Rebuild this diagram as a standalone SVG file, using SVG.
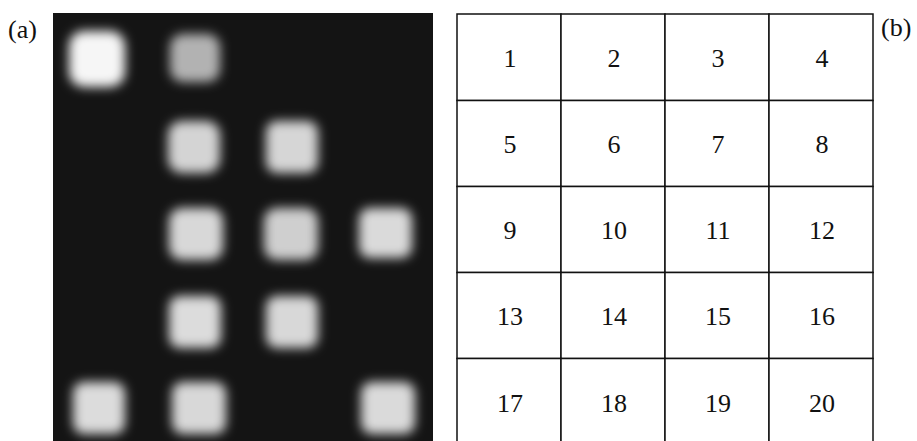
<svg xmlns="http://www.w3.org/2000/svg" width="917" height="441" viewBox="0 0 917 441">
<defs>
<filter id="blur" x="-50%" y="-50%" width="200%" height="200%"><feGaussianBlur stdDeviation="5.5"/></filter>
<style>
.lbl{font-family:"Liberation Serif","Times New Roman",serif;font-size:26px;fill:#111}
.num{font-family:"Liberation Serif","Times New Roman",serif;font-size:26px;fill:#111;text-anchor:middle}
.cell{fill:#fff;stroke:#111;stroke-width:1.5}
.spot{filter:url(#blur)}
</style>
</defs>
<rect width="917" height="441" fill="#fff"/>
<text class="lbl" x="8" y="38">(a)</text>
<text class="lbl" x="881" y="36">(b)</text>
<g id="panel-a">
<rect x="53" y="13" width="380" height="430" fill="#141414"/>
<g id="spot-1"><rect class="spot" x="69" y="31" width="56" height="56" rx="15" fill="#f6f6f6"/></g>
<g id="spot-2"><rect class="spot" x="170" y="34" width="50" height="48" rx="13" fill="#b2b2b2"/></g>
<g id="spot-6"><rect class="spot" x="168" y="121" width="52" height="52" rx="14" fill="#d4d4d4"/></g>
<g id="spot-7"><rect class="spot" x="266" y="121" width="52" height="52" rx="11" fill="#d6d6d6"/></g>
<g id="spot-10"><rect class="spot" x="169" y="208" width="54" height="52" rx="13" fill="#d8d8d8"/></g>
<g id="spot-11"><rect class="spot" x="264" y="208" width="54" height="52" rx="13" fill="#cfcfcf"/></g>
<g id="spot-12"><rect class="spot" x="359" y="208" width="53" height="50" rx="11" fill="#dadada"/></g>
<g id="spot-14"><rect class="spot" x="169" y="296" width="52" height="52" rx="11" fill="#dcdcdc"/></g>
<g id="spot-15"><rect class="spot" x="266" y="296" width="52" height="52" rx="11" fill="#d8d8d8"/></g>
<g id="spot-17"><rect class="spot" x="73" y="382" width="52" height="52" rx="11" fill="#dcdcdc"/></g>
<g id="spot-18"><rect class="spot" x="172" y="382" width="54" height="52" rx="11" fill="#d8d8d8"/></g>
<g id="spot-20"><rect class="spot" x="361" y="382" width="54" height="52" rx="11" fill="#dadada"/></g>
</g>
<g id="panel-b">
<g id="cell-1"><rect class="cell" x="457" y="14" width="104" height="86.5"/><text class="num" x="510" y="66.5">1</text></g>
<g id="cell-2"><rect class="cell" x="561" y="14" width="104" height="86.5"/><text class="num" x="614" y="66.5">2</text></g>
<g id="cell-3"><rect class="cell" x="665" y="14" width="104" height="86.5"/><text class="num" x="718" y="66.5">3</text></g>
<g id="cell-4"><rect class="cell" x="769" y="14" width="104" height="86.5"/><text class="num" x="822" y="66.5">4</text></g>
<g id="cell-5"><rect class="cell" x="457" y="100.5" width="104" height="86"/><text class="num" x="510" y="153">5</text></g>
<g id="cell-6"><rect class="cell" x="561" y="100.5" width="104" height="86"/><text class="num" x="614" y="153">6</text></g>
<g id="cell-7"><rect class="cell" x="665" y="100.5" width="104" height="86"/><text class="num" x="718" y="153">7</text></g>
<g id="cell-8"><rect class="cell" x="769" y="100.5" width="104" height="86"/><text class="num" x="822" y="153">8</text></g>
<g id="cell-9"><rect class="cell" x="457" y="186.5" width="104" height="86"/><text class="num" x="510" y="239">9</text></g>
<g id="cell-10"><rect class="cell" x="561" y="186.5" width="104" height="86"/><text class="num" x="614" y="239">10</text></g>
<g id="cell-11"><rect class="cell" x="665" y="186.5" width="104" height="86"/><text class="num" x="718" y="239">11</text></g>
<g id="cell-12"><rect class="cell" x="769" y="186.5" width="104" height="86"/><text class="num" x="822" y="239">12</text></g>
<g id="cell-13"><rect class="cell" x="457" y="272.5" width="104" height="86"/><text class="num" x="510" y="325">13</text></g>
<g id="cell-14"><rect class="cell" x="561" y="272.5" width="104" height="86"/><text class="num" x="614" y="325">14</text></g>
<g id="cell-15"><rect class="cell" x="665" y="272.5" width="104" height="86"/><text class="num" x="718" y="325">15</text></g>
<g id="cell-16"><rect class="cell" x="769" y="272.5" width="104" height="86"/><text class="num" x="822" y="325">16</text></g>
<g id="cell-17"><rect class="cell" x="457" y="358.5" width="104" height="90"/><text class="num" x="510" y="412">17</text></g>
<g id="cell-18"><rect class="cell" x="561" y="358.5" width="104" height="90"/><text class="num" x="614" y="412">18</text></g>
<g id="cell-19"><rect class="cell" x="665" y="358.5" width="104" height="90"/><text class="num" x="718" y="412">19</text></g>
<g id="cell-20"><rect class="cell" x="769" y="358.5" width="104" height="90"/><text class="num" x="822" y="412">20</text></g>
</g>
</svg>
